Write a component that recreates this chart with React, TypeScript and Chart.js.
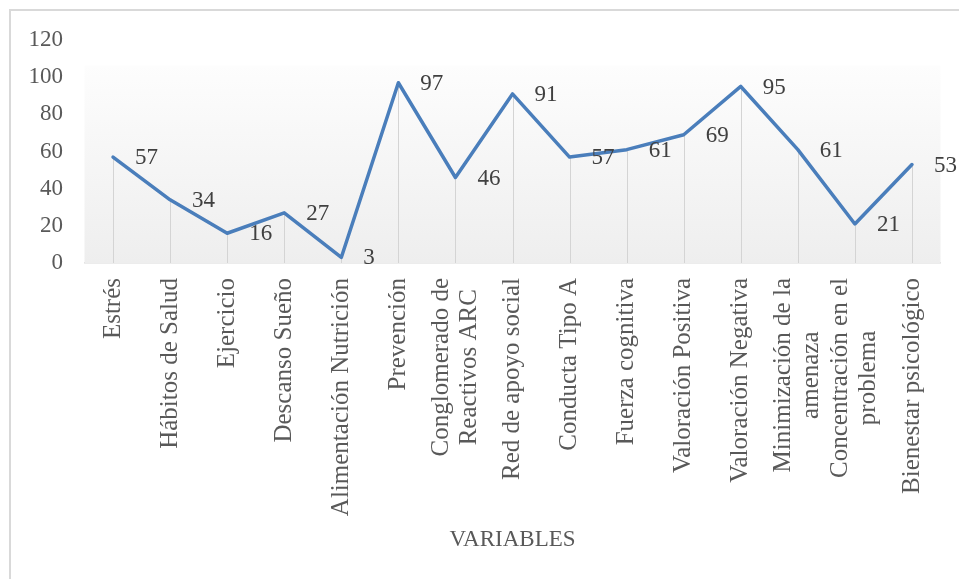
import React, { useEffect, useRef } from "react";
import { Chart, registerables } from "chart.js";

Chart.register(...registerables);

const categories: string[][] = [
  ["Estrés"],
  ["Hábitos de Salud"],
  ["Ejercicio"],
  ["Descanso Sueño"],
  ["Alimentación Nutrición"],
  ["Prevención"],
  ["Conglomerado de", "Reactivos ARC"],
  ["Red de apoyo social"],
  ["Conducta Tipo A"],
  ["Fuerza cognitiva"],
  ["Valoración Positiva"],
  ["Valoración Negativa"],
  ["Minimización de la", "amenaza"],
  ["Concentración en el", "problema"],
  ["Bienestar psicológico"],
];

const values: number[] = [57, 34, 16, 27, 3, 97, 46, 91, 57, 61, 69, 95, 61, 21, 53];

const yMin = 0;
const yMax = 120;
const yStep = 20;
const xTitle = "VARIABLES";

const SERIF = "'Liberation Serif', 'Times New Roman', serif";

export default function App() {
  const ref = useRef<HTMLCanvasElement | null>(null);

  useEffect(() => {
    const canvas = ref.current;
    if (!canvas) return;

    const bgPlugin = {
      id: "bgPlugin",
      beforeDatasetsDraw(chart: any) {
        const { ctx, chartArea } = chart;
        const top = chartArea.top + (chartArea.bottom - chartArea.top) * 0.115;
        const g = ctx.createLinearGradient(0, top, 0, chartArea.bottom);
        g.addColorStop(0, "#fdfdfd");
        g.addColorStop(1, "#eeeeee");
        ctx.save();
        ctx.fillStyle = g;
        ctx.fillRect(chartArea.left, top, chartArea.right - chartArea.left, chartArea.bottom - top);
        // drop lines
        const meta = chart.getDatasetMeta(0);
        ctx.strokeStyle = "#d4d4d4";
        ctx.lineWidth = 1;
        meta.data.forEach((p: any) => {
          ctx.beginPath();
          ctx.moveTo(Math.round(p.x) + 0.5, p.y);
          ctx.lineTo(Math.round(p.x) + 0.5, chartArea.bottom);
          ctx.stroke();
        });
        ctx.restore();
      },
    };

    const labelPlugin = {
      id: "labelPlugin",
      afterDatasetsDraw(chart: any) {
        const { ctx } = chart;
        const meta = chart.getDatasetMeta(0);
        const ds = chart.data.datasets[0];
        ctx.save();
        ctx.font = `23px ${SERIF}`;
        ctx.fillStyle = "#404040";
        ctx.textAlign = "left";
        ctx.textBaseline = "middle";
        meta.data.forEach((p: any, i: number) => {
          ctx.fillText(String(ds.data[i]), p.x + 22, p.y + 1);
        });
        ctx.restore();
      },
      afterDraw(chart: any) {
        const { ctx } = chart;
        const xs = chart.scales.x;
        const top = xs.top + 15;
        const lh = 28;
        ctx.save();
        ctx.font = `25px ${SERIF}`;
        ctx.fillStyle = "#595959";
        ctx.textAlign = "center";
        ctx.textBaseline = "middle";
        (chart.data.labels as string[][]).forEach((lines, i) => {
          const x = xs.getPixelForValue(i);
          const W = Math.max(...lines.map((l) => ctx.measureText(l).width));
          ctx.save();
          ctx.translate(x, top);
          ctx.rotate(-Math.PI / 2);
          lines.forEach((l, k) => {
            const off = (k - (lines.length - 1) / 2) * lh;
            ctx.fillText(l, -W / 2, off);
          });
          ctx.restore();
        });
        ctx.restore();
      },
    };

    const chart = new Chart(canvas, {
      type: "line",
      data: {
        labels: categories as any,
        datasets: [
          {
            data: values,
            borderColor: "#4a7ebb",
            borderWidth: 3.5,
            pointRadius: 0,
            pointHoverRadius: 0,
            tension: 0,
            fill: false,
            borderJoinStyle: "round",
            borderCapStyle: "round",
          },
        ],
      },
      options: {
        responsive: false,
        animation: false,
        events: [],
        layout: { padding: { top: 40, right: 18.5, left: 0, bottom: 0 } },
        plugins: {
          legend: { display: false },
          tooltip: { enabled: false },
        },
        scales: {
          x: {
            type: "category",
            offset: true,
            grid: { display: false },
            border: { display: true, color: "#d9d9d9", width: 1.5 },
            ticks: { display: false },
            title: {
              display: true,
              text: xTitle,
              color: "#595959",
              font: { family: SERIF, size: 23 },
              padding: { top: 0, bottom: 25 },
            },
            afterFit: (s: any) => {
              s.height = 316;
            },
          },
          y: {
            min: yMin,
            max: yMax,
            grid: { display: false },
            border: { display: false },
            ticks: {
              stepSize: yStep,
              color: "#595959",
              font: { family: SERIF, size: 23 },
              padding: 13.5,
            },
            afterFit: (s: any) => {
              s.width = 84.5;
            },
          },
        },
      },
      plugins: [bgPlugin, labelPlugin],
    });

    return () => chart.destroy();
  }, []);

  return (
    <div
      style={{
        position: "fixed",
        left: 0,
        top: 0,
        width: 959,
        height: 579,
        overflow: "hidden",
        background: "#ffffff",
      }}
    >
      <div
        style={{
          position: "absolute",
          left: 9,
          top: 9,
          width: 1000,
          height: 1000,
          border: "2px solid #d9d9d9",
        }}
      />
      <canvas
        ref={ref}
        width={959}
        height={579}
        style={{ position: "absolute", left: 0, top: 0, width: 959, height: 579 }}
      />
    </div>
  );
}
